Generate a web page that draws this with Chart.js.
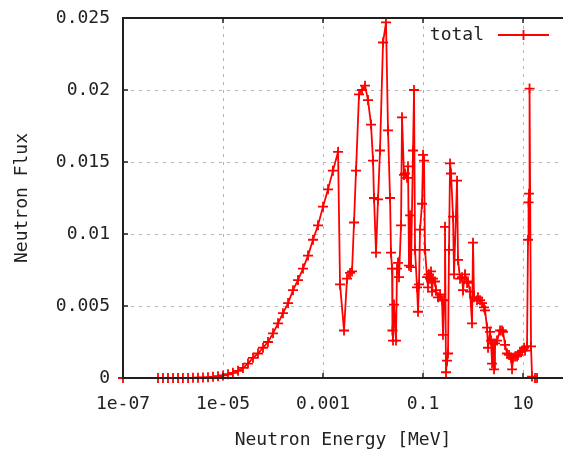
<!DOCTYPE html>
<html>
<head>
<title>Neutron Flux</title>
<script src="https://cdn.jsdelivr.net/npm/chart.js"></script>
<style>
  body { margin: 0; background: #fff; }
  canvas { display: block; }
</style>
</head>
<body>
<canvas id="myChart" width="563" height="450"></canvas>
<script>
// neutron energy [MeV] and flux
var energy = [
  1e-7,
  5.01e-7, 6.31e-7, 7.94e-7, 1.0e-6, 1.26e-6, 1.58e-6, 2.0e-6, 2.51e-6, 3.16e-6, 3.98e-6,
  5.01e-6, 6.31e-6, 7.94e-6, 1.0e-5, 1.26e-5, 1.58e-5, 2.0e-5, 2.51e-5, 3.16e-5, 3.98e-5,
  5.01e-5, 6.31e-5, 7.94e-5, 1.0e-4, 1.26e-4, 1.58e-4, 2.0e-4, 2.51e-4, 3.16e-4, 3.98e-4,
  5.01e-4, 6.31e-4, 7.94e-4, 1.0e-3, 1.26e-3, 1.58e-3, 2.0e-3,
  2.19e-3, 2.63e-3, 3.02e-3, 3.47e-3, 3.80e-3, 4.17e-3, 4.57e-3, 5.25e-3, 6.03e-3, 6.92e-3,
  7.94e-3, 9.12e-3, 1.0e-2, 1.047e-2, 1.148e-2, 1.259e-2, 1.38e-2, 1.585e-2, 1.82e-2, 1.995e-2,
  2.19e-2, 2.29e-2, 2.40e-2, 2.45e-2, 2.51e-2, 2.63e-2, 2.88e-2, 3.02e-2, 3.16e-2, 3.31e-2,
  3.63e-2, 3.80e-2, 4.17e-2, 4.37e-2, 4.79e-2, 5.01e-2, 5.25e-2, 5.50e-2, 5.75e-2, 6.31e-2,
  6.61e-2, 6.92e-2, 7.59e-2, 7.94e-2, 8.32e-2, 8.71e-2, 9.55e-2, 0.100, 0.1047, 0.1096,
  0.1202, 0.1259, 0.1318, 0.138, 0.1445, 0.1514, 0.1585, 0.1738, 0.182, 0.1995,
  0.219, 0.240, 0.251, 0.263, 0.275, 0.288, 0.302, 0.316, 0.331, 0.347,
  0.363, 0.398, 0.417, 0.479, 0.501, 0.550, 0.603, 0.631, 0.692, 0.759,
  0.794, 0.871, 0.955, 1.0, 1.047, 1.202, 1.259, 1.38, 1.514, 1.66,
  1.738, 1.905, 1.995, 2.19, 2.29, 2.40, 2.51, 2.63, 2.75, 3.02,
  3.47, 3.80, 3.98, 4.37, 4.79, 5.25, 5.75, 6.03, 6.31, 6.92,
  7.59, 7.94, 8.71, 9.55, 10.47, 10.96, 12.02, 12.59, 12.9, 13.18,
  13.5, 14.45, 15.14, 17.38, 19.05
];
var flux = [
  0,
  0, 0, 0, 0, 0, 0, 0, 0.00001, 0.00002, 0.00003,
  0.00005, 0.00008, 0.00012, 0.00018, 0.00026, 0.00036, 0.0005, 0.0007, 0.001, 0.0014,
  0.0017, 0.0021, 0.0025, 0.0031, 0.0038, 0.0045, 0.0052, 0.0061, 0.0068, 0.0076,
  0.0085, 0.0096, 0.0106, 0.0119, 0.0131, 0.0144, 0.0157,
  0.0065, 0.0033, 0.0069, 0.0073, 0.0074, 0.0108, 0.0144, 0.0197, 0.0200, 0.0203,
  0.0193, 0.0176, 0.0151, 0.0125, 0.0087, 0.0124, 0.0158, 0.0233, 0.0247, 0.0172,
  0.0125, 0.0087, 0.0076, 0.0033, 0.0026, 0.0051, 0.0026, 0.0076, 0.0080, 0.0070,
  0.0106, 0.0181, 0.0141, 0.0142, 0.0139, 0.0147, 0.0078, 0.0113, 0.0077, 0.0158,
  0.0200, 0.0089, 0.0063, 0.0046, 0.0065, 0.0103, 0.0121, 0.0155, 0.0151, 0.0089,
  0.0070, 0.0063, 0.0072, 0.0069, 0.0074, 0.0060, 0.0069, 0.0067, 0.0061, 0.0056,
  0.0058, 0.0054, 0.0030, 0.0054, 0.0105, 0.0004, 0.0012, 0.0017, 0.0089, 0.0149,
  0.0142, 0.0112, 0.0072, 0.0137, 0.0082, 0.0069, 0.0070, 0.0061, 0.0072, 0.0066,
  0.0067, 0.0060, 0.0038, 0.0094, 0.0056, 0.0054, 0.0056, 0.0054, 0.0052, 0.0049,
  0.0047, 0.0035, 0.0021, 0.0032, 0.0026, 0.0010, 0.0024, 0.0006, 0.0024, 0.0026,
  0.0033, 0.0033, 0.0032, 0.0023, 0.0017, 0.0016, 0.0014, 0.0006, 0.0014, 0.0015,
  0.0015, 0.0016, 0.0018, 0.0019, 0.0021, 0.0019, 0.0022, 0.0096, 0.0122, 0.0128,
  0.0201, 0.0022, 0.0001, 0, 0
];
var xTicks = [1e-7, 1e-5, 1e-3, 0.1, 10];
var xTickLabels = ['1e-07', '1e-05', '0.001', '0.1', '10'];
var yTicks = [0, 0.005, 0.01, 0.015, 0.02, 0.025];
var yTickLabels = ['0', '0.005', '0.01', '0.015', '0.02', '0.025'];
var seriesName = 'total';

var FONT = 'DejaVu Sans Mono';
var RED = '#ff0000';
var GRID = '#b4b4b4';
var FRAME = '#202020';

var points = [];
for (var i = 0; i < energy.length; i++) {
  points.push({ x: energy[i], y: flux[i] });
}

// gnuplot-like frame (drawn in front of the data): top/left/bottom border with inward ticks
var framePlugin = {
  id: 'frame',
  afterDatasetsDraw: function(chart) {
    var ctx = chart.ctx, a = chart.chartArea;
    var xs = chart.scales.x, ys = chart.scales.y;
    ctx.save();
    ctx.strokeStyle = FRAME;
    ctx.lineWidth = 2;
    ctx.beginPath();
    ctx.moveTo(a.right + 2, a.top);
    ctx.lineTo(a.left, a.top);
    ctx.lineTo(a.left, a.bottom);
    ctx.lineTo(a.right + 2, a.bottom);
    ctx.stroke();
    ctx.lineWidth = 1.5;
    ctx.beginPath();
    xTicks.forEach(function(v) {
      var px = xs.getPixelForValue(v);
      ctx.moveTo(px, a.bottom); ctx.lineTo(px, a.bottom - 5);
      ctx.moveTo(px, a.top); ctx.lineTo(px, a.top + 5);
    });
    yTicks.forEach(function(v) {
      var py = ys.getPixelForValue(v);
      ctx.moveTo(a.left, py); ctx.lineTo(a.left + 5, py);
    });
    ctx.stroke();
    ctx.restore();
  }
};

// key drawn inside the plot, top right
var keyPlugin = {
  id: 'key',
  afterDatasetsDraw: function(chart) {
    var ctx = chart.ctx;
    var y = 35;
    ctx.save();
    ctx.fillStyle = '#222';
    ctx.font = '18px "' + FONT + '"';
    ctx.textAlign = 'right';
    ctx.textBaseline = 'middle';
    ctx.fillText(seriesName, 484, y);
    ctx.strokeStyle = RED;
    ctx.lineWidth = 1.8;
    ctx.beginPath();
    ctx.moveTo(498, y); ctx.lineTo(549, y);
    ctx.moveTo(523.5, y - 5); ctx.lineTo(523.5, y + 5);
    ctx.stroke();
    ctx.restore();
  }
};

var ctx = document.getElementById('myChart').getContext('2d');
var chart = new Chart(ctx, {
  type: 'scatter',
  data: {
    datasets: [{
      label: seriesName,
      data: points,
      showLine: true,
      borderColor: RED,
      backgroundColor: RED,
      borderWidth: 1.8,
      pointStyle: 'cross',
      pointRadius: 5,
      pointBorderWidth: 1.8,
      pointBorderColor: RED,
      tension: 0,
      clip: 6
    }]
  },
  options: {
    responsive: false,
    animation: false,
    devicePixelRatio: 1,
    layout: { autoPadding: false, padding: { top: 18, right: 0, left: 0, bottom: 0 } },
    plugins: {
      legend: { display: false },
      tooltip: { enabled: false }
    },
    scales: {
      x: {
        type: 'logarithmic',
        min: 1e-7,
        max: 63,
        afterBuildTicks: function(scale) {
          scale.ticks = xTicks.map(function(v) { return { value: v }; });
        },
        afterFit: function(scale) {
          scale.height = 72;
          scale.paddingLeft = 0;
          scale.paddingRight = 0;
        },
        ticks: {
          autoSkip: false,
          maxRotation: 0,
          padding: 16,
          color: '#222',
          font: { family: FONT, size: 18 },
          callback: function(v, i) { return xTickLabels[i]; }
        },
        grid: {
          drawTicks: false,
          lineWidth: 1,
          color: function(c) {
            return (c.tick && c.tick.value === xTicks[0]) ? 'rgba(0,0,0,0)' : GRID;
          }
        },
        border: { display: false, dash: [3, 5] },
        title: {
          display: true,
          text: 'Neutron Energy [MeV]',
          color: '#222',
          font: { family: FONT, size: 18, lineHeight: 1 },
          padding: { top: 0, bottom: 1 }
        }
      },
      y: {
        type: 'linear',
        min: 0,
        max: 0.025,
        afterBuildTicks: function(scale) {
          scale.ticks = yTicks.map(function(v) { return { value: v }; });
        },
        afterFit: function(scale) {
          scale.width = 123;
          scale.paddingTop = 0;
          scale.paddingBottom = 0;
        },
        ticks: {
          padding: 13,
          color: '#222',
          font: { family: FONT, size: 18 },
          callback: function(v, i) { return yTickLabels[i]; }
        },
        grid: {
          drawTicks: false,
          lineWidth: 1,
          color: function(c) {
            var v = c.tick ? c.tick.value : null;
            return (v === 0 || v === 0.025) ? 'rgba(0,0,0,0)' : GRID;
          }
        },
        border: { display: false, dash: [3, 5] },
        title: {
          display: true,
          text: 'Neutron Flux',
          color: '#222',
          font: { family: FONT, size: 18, lineHeight: 1 },
          padding: { top: 13, bottom: 0 }
        }
      }
    }
  },
  plugins: [framePlugin, keyPlugin]
});
</script>
</body>
</html>
